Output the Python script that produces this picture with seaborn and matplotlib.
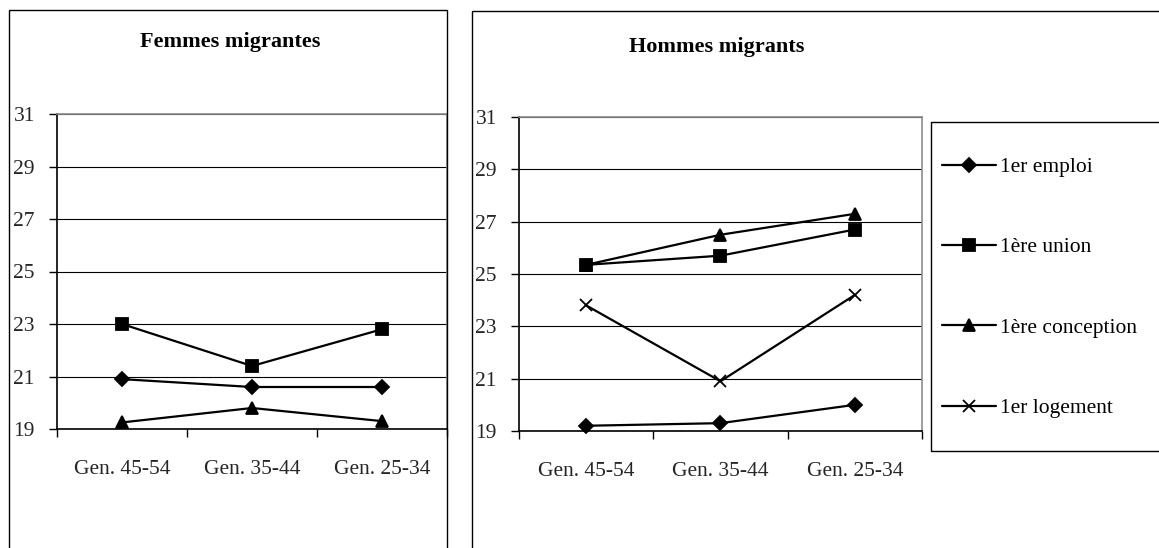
import matplotlib
matplotlib.use("Agg")
import matplotlib.pyplot as plt
import seaborn as sns
import pandas as pd
from matplotlib.patches import Rectangle

# data
categories = ["Gen. 45-54", "Gen. 35-44", "Gen. 25-34"]
series_names = ["1er emploi", "1ère union", "1ère conception", "1er logement"]

femmes_emploi = [20.9, 20.6, 20.6]
femmes_union = [23.0, 21.4, 22.8]
femmes_conception = [19.25, 19.8, 19.3]

hommes_emploi = [19.2, 19.3, 20.0]
hommes_union = [25.35, 25.7, 26.7]
hommes_conception = [25.35, 26.5, 27.3]
hommes_logement = [23.8, 20.9, 24.2]

y_ticks = [19, 21, 23, 25, 27, 29, 31]

markers = {"1er emploi": "D", "1ère union": "s", "1ère conception": "^", "1er logement": "x"}
msizes = {"1er emploi": 7, "1ère union": 8, "1ère conception": 9, "1er logement": 9}

FS = 15.5

sns.set_style("white")
plt.rcParams['font.family'] = ['Liberation Serif', 'DejaVu Serif']
plt.rcParams['text.color'] = 'black'

W, H = 1159, 548
fig = plt.figure(figsize=(W / 100, H / 100), dpi=100)


def px_axes(x0, y0, x1, y1):
    return fig.add_axes([x0 / W, 1 - y1 / H, (x1 - x0) / W, (y1 - y0) / H])


def draw_panel(ax, data):
    for name, vals in data.items():
        df = pd.DataFrame({"gen": categories, "age": vals})
        sns.lineplot(data=df, x="gen", y="age", ax=ax, sort=False, color="black",
                     lw=1.6, marker=markers[name], markersize=msizes[name],
                     markeredgecolor="black", markerfacecolor="black",
                     markeredgewidth=1.3, label=name, clip_on=False, zorder=5)
    ax.set_xlim(-0.5, 2.5)
    ax.set_ylim(19, 31)
    ax.set_yticks(y_ticks)
    ax.set_xticks([-0.5, 0.5, 1.5, 2.5])
    ax.set_xticklabels([])
    ax.set_xticks([0, 1, 2], minor=True)
    ax.set_xticklabels(categories, minor=True)
    ax.tick_params(axis="x", which="major", bottom=True, length=6, width=1,
                   color="black", direction="out")
    ax.tick_params(axis="x", which="minor", bottom=True, length=0, pad=22, labelsize=FS)
    ax.tick_params(axis="y", left=True, length=6, width=1, color="black",
                   direction="out", pad=10, labelsize=FS)
    ax.set_xlabel("")
    ax.set_ylabel("")
    ax.yaxis.grid(True, color="black", lw=0.8)
    ax.set_axisbelow(True)
    for s in ["left", "bottom"]:
        ax.spines[s].set_color("black")
        ax.spines[s].set_linewidth(1.2)
    for s in ["top", "right"]:
        ax.spines[s].set_color("#8c8c8c")
        ax.spines[s].set_linewidth(1.2)
        ax.spines[s].set_visible(True)
    if ax.get_legend() is not None:
        ax.get_legend().remove()


# outer chart borders
fig.patches.append(Rectangle((9 / W, -0.1), (447 - 9) / W, 1.1 - 10 / H,
                             transform=fig.transFigure, fill=False, ec="black", lw=1))
fig.patches.append(Rectangle((472 / W, -0.1), 1.0, 1.1 - 11 / H,
                             transform=fig.transFigure, fill=False, ec="black", lw=1))

ax1 = px_axes(57, 114, 447, 429)
draw_panel(ax1, {"1er emploi": femmes_emploi, "1ère union": femmes_union,
                 "1ère conception": femmes_conception})

ax2 = px_axes(519, 117, 922, 431)
draw_panel(ax2, {"1er emploi": hommes_emploi, "1ère union": hommes_union,
                 "1ère conception": hommes_conception, "1er logement": hommes_logement})

fig.text(230 / W, 1 - 42 / H, "Femmes migrantes", ha="center", va="center",
         fontsize=16, fontweight="bold")
fig.text(717 / W, 1 - 47 / H, "Hommes migrants", ha="center", va="center",
         fontsize=16, fontweight="bold")

# legend box
fig.patches.append(Rectangle((931 / W, 1 - 451 / H), 1.0, (451 - 122) / H,
                             transform=fig.transFigure, fill=False, ec="black", lw=1))
handles, labels = ax2.get_legend_handles_labels()
fig.legend(handles, labels, loc="upper left", bbox_to_anchor=(942 / W, 1 - 157 / H),
           frameon=False, borderpad=0, borderaxespad=0, fontsize=FS,
           labelspacing=2.8, handlelength=2.5, handletextpad=0.2)

fig.savefig("out.png", dpi=100)
